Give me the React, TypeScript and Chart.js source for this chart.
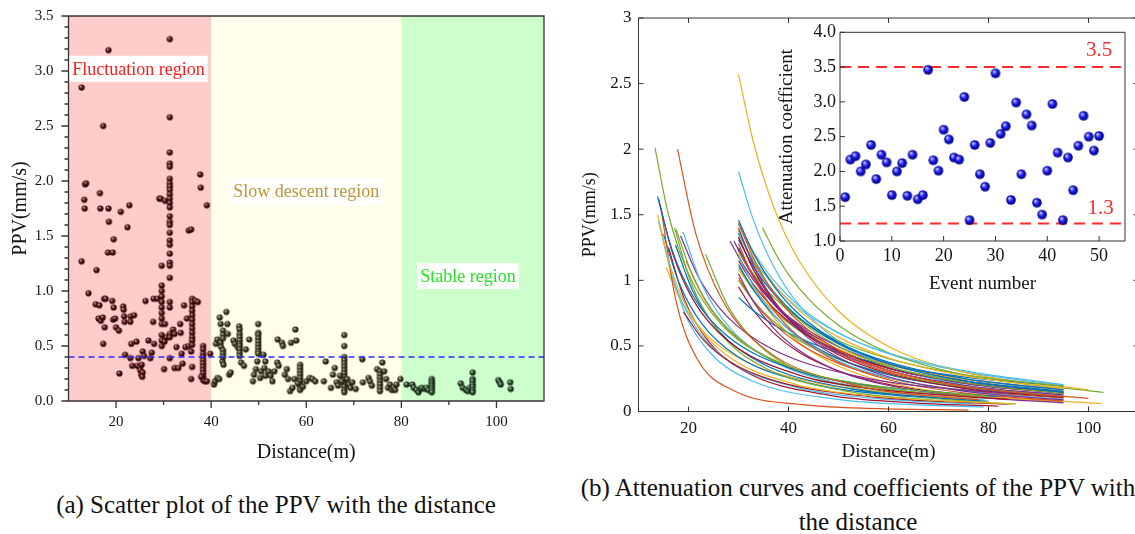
import React, { useEffect, useRef } from 'react';
import { Chart, registerables } from 'chart.js';

Chart.register(...registerables);

const SERIF = '"Liberation Serif", "Times New Roman", Times, serif';

/* ================= (a) Scatter plot of PPV vs distance ================= */
const scatterXRange = [10, 110];
const scatterYRange = [0, 3.5];
const scatterXTicks = [20, 40, 60, 80, 100];
const scatterXMinorTicks = [30, 50, 70, 90];
const scatterYTicks = [0, 0.5, 1, 1.5, 2, 2.5, 3, 3.5];
const scatterYMinorTicks = [0.1, 0.2, 0.3, 0.4, 0.6, 0.7, 0.8, 0.9, 1.1, 1.2, 1.3, 1.4, 1.6, 1.7, 1.8, 1.9, 2.1, 2.2, 2.3, 2.4, 2.6, 2.7, 2.8, 2.9, 3.1, 3.2, 3.3, 3.4];
const regionBounds = [10, 40, 80, 110];
const regionNames = ['Fluctuation region', 'Slow descent region', 'Stable region'];
const regionLabelX = [24.7, 60, 94];
const regionLabelY = [3.02, 1.905, 1.136];
const thresholdPPV = 0.4;

const fluctuationPoints: number[][] = [
  [12.75, 2.85], [12.75, 1.27], [13.3, 1.83], [13.4, 1.75], [13.5, 1.97], [13.7, 1.98], [14.2, 0.98], [15.7, 0.88],
  [15.9, 1.19], [16.5, 0.87], [16.6, 1.89], [16.7, 1.75], [16.3, 0.75], [16.8, 0.73], [17.3, 2.5], [17.3, 0.52],
  [17.2, 0.76], [17.5, 0.93], [17.8, 0.93], [17.6, 0.67], [18.4, 3.19], [18.4, 1.75], [18.5, 1.63], [18.3, 1.35],
  [19.3, 1.35], [19.5, 1.47], [19.2, 0.91], [19.5, 0.85], [19.4, 0.74], [19.8, 0.75], [20.0, 0.67], [20.6, 0.64],
  [20.7, 0.25], [21.0, 1.72], [21.5, 0.86], [21.6, 0.83], [21.7, 0.77], [21.8, 0.72], [21.9, 0.42], [22.4, 1.58],
  [22.8, 1.78], [23.0, 0.72], [23.1, 0.77], [23.2, 0.52], [23.0, 0.39], [23.4, 0.32], [23.8, 0.78], [24.3, 0.54],
  [24.7, 0.39], [24.5, 0.32], [25.0, 0.31], [25.4, 0.33], [25.1, 0.28], [25.3, 0.24], [25.6, 0.26], [25.5, 0.22],
  [25.6, 0.45], [25.9, 0.41], [26.2, 0.91], [26.8, 0.55], [27.2, 0.39], [27.5, 0.44], [27.8, 0.72], [28.0, 0.52],
  [27.9, 0.93], [28.7, 0.93], [29.1, 1.84], [29.4, 1.84], [29.6, 1.23], [29.6, 1.05], [29.6, 1.0], [29.6, 0.95],
  [29.6, 0.9], [29.6, 0.85], [29.6, 0.8], [29.6, 0.75], [29.6, 0.7], [29.6, 0.6], [29.6, 0.55], [29.6, 0.5],
  [30.1, 0.29], [30.2, 0.54], [30.3, 1.82], [30.3, 0.7], [30.6, 0.58], [31.3, 3.29], [31.3, 2.58], [31.3, 2.26],
  [31.3, 2.16], [31.3, 2.13], [31.3, 2.02], [31.3, 1.98], [31.3, 1.95], [31.3, 1.92], [31.3, 1.88], [31.3, 1.84],
  [31.3, 1.8], [31.3, 1.76], [31.3, 1.68], [31.3, 1.63], [31.3, 1.6], [31.3, 1.53], [31.3, 1.46], [31.3, 1.42],
  [31.3, 1.34], [31.3, 1.26], [31.3, 1.23], [31.3, 1.12], [31.3, 0.9], [31.3, 0.85], [31.3, 0.61], [31.3, 0.58],
  [31.3, 0.39], [32.0, 0.65], [32.3, 0.61], [32.7, 0.49], [32.3, 0.3], [33.1, 0.3], [33.5, 0.7], [33.6, 0.62],
  [33.8, 0.43], [34.0, 0.34], [34.3, 0.87], [34.6, 0.49], [34.9, 0.75], [35.3, 0.5], [35.3, 1.55], [35.8, 1.56],
  [35.8, 0.2], [36.0, 0.31], [35.8, 0.45], [36.0, 0.93], [36.0, 0.9], [36.0, 0.86], [36.0, 0.82], [36.0, 0.78],
  [36.0, 0.74], [36.0, 0.7], [36.0, 0.66], [36.0, 0.62], [36.0, 0.58], [36.0, 0.55], [36.0, 0.51], [36.7, 0.91],
  [37.2, 0.9], [37.7, 2.06], [37.8, 1.94], [38.3, 0.5], [38.3, 0.47], [38.3, 0.43], [38.3, 0.4], [38.3, 0.37],
  [38.3, 0.34], [38.3, 0.31], [38.3, 0.28], [38.3, 0.25], [38.3, 0.22], [38.3, 0.19], [37.9, 0.22], [38.7, 0.18],
  [39.1, 0.18], [39.1, 1.78], [39.8, 0.43],
];

const slowDescentPoints: number[][] = [
  [40.6, 0.15], [40.8, 0.18], [41.3, 0.21], [41.7, 0.2], [41.0, 0.52], [41.3, 0.56], [41.8, 0.76], [42.0, 0.7],
  [42.0, 0.53], [42.1, 0.49], [42.4, 0.36], [42.6, 0.33], [42.5, 0.64], [42.5, 0.6], [42.5, 0.57], [42.5, 0.46],
  [42.5, 0.43], [42.5, 0.4], [43.2, 0.81], [43.4, 0.7], [43.5, 0.61], [43.8, 0.24], [44.1, 0.26], [44.7, 0.55],
  [45.0, 0.52], [45.6, 0.49], [45.9, 0.68], [46.0, 0.65], [46.0, 0.61], [46.0, 0.58], [46.0, 0.55], [46.0, 0.52],
  [46.0, 0.5], [46.0, 0.47], [46.0, 0.44], [46.0, 0.41], [46.3, 0.35], [46.9, 0.32], [47.3, 0.47], [48.0, 0.56],
  [48.8, 0.18], [49.0, 0.24], [49.4, 0.29], [49.7, 0.36], [49.9, 0.7], [49.9, 0.62], [49.9, 0.6], [49.9, 0.57],
  [49.9, 0.54], [49.9, 0.51], [49.9, 0.48], [49.9, 0.45], [49.9, 0.43], [50.5, 0.27], [51.2, 0.3], [50.3, 0.21],
  [51.4, 0.23], [51.0, 0.42], [51.4, 0.36], [52.1, 0.27], [52.5, 0.23], [52.9, 0.18], [53.3, 0.27], [53.9, 0.35],
  [54.2, 0.32], [54.0, 0.56], [54.9, 0.53], [55.1, 0.5], [55.5, 0.24], [55.9, 0.29], [56.2, 0.2], [56.6, 0.09],
  [57.1, 0.12], [56.8, 0.53], [57.7, 0.65], [57.9, 0.55], [58.7, 0.33], [58.7, 0.3], [58.7, 0.27], [58.7, 0.24],
  [58.7, 0.21], [58.7, 0.18], [58.7, 0.15], [58.7, 0.12], [58.7, 0.1], [57.5, 0.2], [58.2, 0.16], [59.3, 0.13],
  [60.0, 0.18], [60.7, 0.21], [61.3, 0.2], [61.9, 0.18], [63.7, 0.18], [64.1, 0.36], [65.2, 0.12], [65.6, 0.24],
  [66.0, 0.3], [66.4, 0.17], [66.7, 0.14], [68.0, 0.6], [68.0, 0.5], [68.0, 0.4], [68.0, 0.37], [68.0, 0.34],
  [68.0, 0.31], [68.0, 0.28], [68.0, 0.25], [68.0, 0.22], [68.0, 0.19], [68.0, 0.16], [68.0, 0.13], [68.0, 0.1],
  [68.0, 0.08], [67.1, 0.23], [67.5, 0.18], [68.6, 0.2], [69.0, 0.15], [69.3, 0.12], [69.7, 0.17], [70.4, 0.11],
  [71.8, 0.38], [71.9, 0.17], [73.1, 0.21], [73.4, 0.18], [73.8, 0.14], [74.9, 0.29], [75.5, 0.27], [75.5, 0.24],
  [75.5, 0.21], [75.5, 0.18], [75.5, 0.15], [75.5, 0.12], [75.5, 0.09], [76.0, 0.35], [76.4, 0.27], [76.8, 0.2],
  [77.2, 0.12], [77.6, 0.15], [78.0, 0.1], [78.4, 0.12], [78.7, 0.1], [79.0, 0.15], [79.8, 0.2],
];

const stablePoints: number[][] = [
  [81.1, 0.15], [82.3, 0.15], [82.6, 0.12], [83.2, 0.1], [83.6, 0.08], [84.0, 0.11], [84.3, 0.12], [85.0, 0.11],
  [85.3, 0.12], [85.7, 0.1], [86.4, 0.2], [86.4, 0.18], [86.4, 0.16], [86.4, 0.14], [86.4, 0.12], [86.4, 0.1],
  [86.4, 0.08], [92.5, 0.16], [92.9, 0.12], [93.6, 0.1], [94.0, 0.09], [94.4, 0.12], [95.0, 0.26], [95.0, 0.2],
  [95.0, 0.18], [95.0, 0.15], [95.0, 0.13], [95.0, 0.1], [95.0, 0.08], [100.4, 0.19], [100.7, 0.17], [100.9, 0.15],
  [102.9, 0.17], [103.0, 0.11],
];

/* ================= (b) Attenuation curves ================= */
const curveXRange = [10, 110];
const curveYRange = [0, 3];
const curveXTicks = [20, 40, 60, 80, 100];
const curveYTicks = [0, 0.5, 1, 1.5, 2, 2.5, 3];
const farGrid = [30, 33, 37, 42, 50, 60, 75, 95];

const curveDistances: number[][] = [
  [13.3, 16, 20, 26.6, 39.9, 53.2, 80],
  [17.8, 21.4, 26.7, 35.6, 53.4, 71.2, 78],
  [13.8, 16.6, 20.7, 27.6, 41.4, 55.2, 82],
  [14, 16.8, 21, 28, 42, 56, 84],
  [13.8, 16.6, 20.7, 27.6, 41.4, 55.2, 85],
  [17.2, 20.6, 25.8, 34.4, 51.6, 68.8, 85.5],
  [17.5, 21, 26.25, 35, 52.5, 70, 80],
  [18.9, 22.7, 28.35, 37.8, 56.7, 75.6, 79],
  [17.4, 20.9, 26.1, 34.8, 52.2, 69.6, 78],
  [18.4, 22.1, 27.6, 36.8, 55.2, 73.6, 84],
  [23.4, 28.1, 35.1, 46.8, 70.2, 80],
  [19, 22.8, 28.5, 38, 57, 76, 84],
  [14.5, 17.4, 21.75, 29, 43.5, 58, 76],
  [14, 16.8, 21, 28, 42, 56, 77],
  [15, 18, 22.5, 30, 45, 60, 80],
  [16, 19.2, 24, 32, 48, 64, 82],
  [15.5, 18.6, 23.25, 31, 46.5, 62, 78],
  [19.5, 23.4, 29.25, 39, 58.5, 80],
  [16.5, 19.8, 24.75, 33, 49.5, 66, 79],
  farGrid, farGrid, farGrid, farGrid, farGrid, farGrid, farGrid, farGrid, farGrid,
  farGrid, farGrid, farGrid, farGrid, farGrid, farGrid, farGrid, farGrid, farGrid,
  farGrid, farGrid,
  [30, 33, 37, 42, 50, 60, 75, 100],
  [34.8, 38, 42, 50, 60, 75, 103],
  [28.3, 31, 35, 40, 50, 60, 75, 95],
  [29.1, 31, 35, 40, 50, 60, 75, 95],
  [30, 33, 37, 42, 50, 60, 75, 100],
  [30, 33, 37, 42, 50, 60, 75, 102.6],
  farGrid, farGrid, farGrid, farGrid, farGrid,
];

const curvePPV: number[][] = [
  [2.01, 1.5, 1.05, 0.663, 0.347, 0.219, 0.114],
  [2.0, 1.364, 0.854, 0.466, 0.199, 0.109, 0.09],
  [1.64, 1.246, 0.892, 0.581, 0.315, 0.205, 0.113],
  [1.62, 1.21, 0.847, 0.535, 0.279, 0.176, 0.092],
  [1.5, 1.08, 0.723, 0.431, 0.207, 0.124, 0.057],
  [1.4, 0.972, 0.622, 0.35, 0.155, 0.0875, 0.057],
  [1.39, 1.02, 0.698, 0.428, 0.215, 0.132, 0.105],
  [1.37, 0.969, 0.634, 0.367, 0.17, 0.098, 0.09],
  [1.27, 0.914, 0.612, 0.364, 0.175, 0.105, 0.085],
  [1.34, 1.018, 0.729, 0.474, 0.257, 0.168, 0.137],
  [1.2, 0.79, 0.473, 0.244, 0.096, 0.071],
  [0.76, 0.553, 0.374, 0.226, 0.111, 0.067, 0.056],
  [1.55, 0.86, 0.4, 0.16, 0.05, 0.022, 0.011],
  [1.45, 1.025, 0.671, 0.389, 0.18, 0.104, 0.057],
  [1.35, 0.991, 0.678, 0.416, 0.209, 0.128, 0.078],
  [1.25, 0.853, 0.534, 0.291, 0.125, 0.068, 0.04],
  [1.1, 0.836, 0.598, 0.389, 0.211, 0.138, 0.097],
  [1.15, 0.844, 0.577, 0.354, 0.178, 0.104],
  [1.05, 0.702, 0.431, 0.229, 0.094, 0.05, 0.034],
  [1.46, 1.206, 0.959, 0.745, 0.526, 0.365, 0.234, 0.146],
  [1.44, 1.168, 0.907, 0.687, 0.468, 0.314, 0.192, 0.114],
  [1.42, 1.196, 0.974, 0.775, 0.567, 0.408, 0.273, 0.178],
  [1.4, 1.114, 0.847, 0.624, 0.411, 0.265, 0.155, 0.088],
  [1.38, 1.14, 0.907, 0.704, 0.497, 0.345, 0.221, 0.138],
  [1.35, 1.158, 0.965, 0.788, 0.597, 0.446, 0.312, 0.205],
  [1.33, 1.079, 0.838, 0.634, 0.432, 0.29, 0.177, 0.105],
  [1.31, 1.103, 0.899, 0.715, 0.523, 0.376, 0.252, 0.165],
  [1.28, 1.019, 0.774, 0.571, 0.376, 0.242, 0.142, 0.081],
  [1.25, 1.033, 0.821, 0.638, 0.45, 0.313, 0.2, 0.125],
  [1.22, 1.047, 0.872, 0.712, 0.539, 0.403, 0.282, 0.193],
  [1.18, 0.957, 0.743, 0.563, 0.384, 0.257, 0.157, 0.093],
  [1.15, 0.968, 0.789, 0.628, 0.459, 0.33, 0.221, 0.144],
  [1.12, 0.925, 0.736, 0.571, 0.403, 0.28, 0.179, 0.112],
  [1.08, 0.927, 0.772, 0.631, 0.477, 0.356, 0.249, 0.171],
  [1.05, 0.836, 0.635, 0.468, 0.308, 0.198, 0.117, 0.066],
  [1.02, 0.843, 0.67, 0.52, 0.367, 0.255, 0.163, 0.102],
  [1.0, 0.842, 0.686, 0.546, 0.399, 0.287, 0.192, 0.126],
  [0.87, 0.768, 0.662, 0.562, 0.448, 0.353, 0.264, 0.194],
  [1.83, 1.457, 1.107, 0.816, 0.537, 0.346, 0.203, 0.115],
  [2.57, 2.051, 1.563, 1.157, 0.766, 0.496, 0.3, 0.165],
  [1.4, 1.165, 0.945, 0.657, 0.448, 0.281, 0.145],
  [1.3, 1.114, 0.906, 0.722, 0.494, 0.363, 0.248, 0.166],
  [1.3, 1.153, 0.915, 0.711, 0.465, 0.329, 0.215, 0.137],
  [1.33, 1.084, 0.847, 0.645, 0.444, 0.3, 0.185, 0.1],
  [1.2, 0.952, 0.719, 0.528, 0.345, 0.221, 0.128, 0.06],
  [1.36, 1.134, 0.913, 0.718, 0.515, 0.364, 0.238, 0.152],
  [1.24, 1.034, 0.832, 0.655, 0.47, 0.332, 0.217, 0.139],
  [1.1, 0.935, 0.77, 0.62, 0.462, 0.339, 0.232, 0.155],
  [1.43, 1.216, 1.001, 0.807, 0.601, 0.44, 0.302, 0.202],
  [0.95, 0.77, 0.599, 0.453, 0.309, 0.207, 0.126, 0.075],
];

/* ================= (b) inset: attenuation coefficients ================= */
const insetXRange = [0, 55];
const insetYRange = [1, 4];
const insetXTicks = [0, 10, 20, 30, 40, 50];
const insetYTicks = [1, 1.5, 2, 2.5, 3, 3.5, 4];
const eventNumbers = [1, 2, 3, 4, 5, 6, 7, 8, 9, 10, 11, 12, 13, 14, 15, 16, 17, 18, 19, 20, 21, 22, 23, 24, 25,
  26, 27, 28, 29, 30, 31, 32, 33, 34, 35, 36, 37, 38, 39, 40, 41, 42, 43, 44, 45, 46, 47, 48, 49, 50];
const attenuationCoefficients = [1.63, 2.17, 2.22, 2.0, 2.1, 2.38, 1.89, 2.24, 2.13, 1.66, 2.0, 2.12, 1.65, 2.24, 1.6,
  1.66, 3.46, 2.16, 2.01, 2.6, 2.46, 2.2, 2.17, 3.07, 1.3, 2.38, 1.96, 1.78, 2.41, 3.41, 2.54, 2.65, 1.59, 2.99, 1.96,
  2.82, 2.66, 1.55, 1.38, 2.01, 2.97, 2.27, 1.3, 2.2, 1.73, 2.37, 2.8, 2.5, 2.3, 2.51];
const coefficientLimits = [3.5, 1.25];
const coefficientLimitLabels = ['3.5', '1.3'];
const limitLabelX = [50, 50.3];
const limitLabelY = [3.74, 1.47];

/* ================= styles ================= */
const regionFills = ['#FFCCCC', '#FFFFEC', '#CCFFCC'];
const regionTextColors = ['#FF1A1A', '#BE9632', '#22E622'];
const P = { blue: '#0072BD', orange: '#D95319', yellow: '#EDB120', purple: '#7E2F8E', green: '#77AC30', cyan: '#4DBEEE', maroon: '#A2142F' };
const curveColors = [
  P.green, P.orange, P.blue, P.maroon, P.yellow, P.green, P.green, P.cyan, P.blue, P.purple,
  P.green, P.maroon, P.orange, P.cyan, P.blue, P.maroon, P.yellow, P.orange, P.cyan,
  P.blue, P.orange, P.yellow, P.purple, P.green, P.cyan, P.maroon, P.blue, P.orange, P.purple,
  P.green, P.cyan, P.maroon, P.blue, P.yellow, P.purple, P.orange, P.green, P.blue, P.cyan,
  P.yellow, P.green, P.purple, P.purple, P.orange, P.yellow, P.blue, P.maroon, P.green, P.cyan, P.maroon,
];

function makeSphere(r: number, light: string, mid: string, dark: string) {
  const s = Math.ceil(r * 2 + 2);
  const c = document.createElement('canvas');
  c.width = s; c.height = s;
  const g = c.getContext('2d')!;
  const cx = s / 2, cy = s / 2;
  const grad = g.createRadialGradient(cx - r * 0.35, cy - r * 0.4, r * 0.1, cx, cy, r);
  grad.addColorStop(0, light);
  grad.addColorStop(0.5, mid);
  grad.addColorStop(1, dark);
  g.fillStyle = grad;
  g.beginPath();
  g.arc(cx, cy, r, 0, Math.PI * 2);
  g.fill();
  return c;
}

function axis(o: any) {
  return {
    type: 'linear',
    min: o.range[0], max: o.range[1],
    grid: { display: false, drawTicks: false },
    border: { display: false },
    afterBuildTicks: (s: any) => { s.ticks = o.ticks.map((v: number) => ({ value: v })); },
    afterFit: (s: any) => {
      if (o.horizontal) { s.height = o.fit; s.paddingLeft = 0; s.paddingRight = 0; }
      else { s.width = o.fit; s.paddingTop = 0; s.paddingBottom = 0; }
    },
    ticks: {
      autoSkip: false, maxRotation: 0, minRotation: 0, padding: o.pad, color: '#151515',
      font: { family: SERIF, size: o.size }, callback: (v: any) => o.fmt(Number(v)),
    },
    title: {
      display: true, text: o.title, color: '#151515', font: { family: SERIF, size: o.titleSize },
      padding: o.horizontal ? { top: 0, bottom: o.titlePad } : { top: o.titlePad, bottom: 0 },
    },
  };
}

function framePlugin(cfg: any) {
  return {
    id: 'frame',
    afterDraw(chart: any) {
      const { ctx, chartArea: a, scales } = chart;
      const xs = scales.x, ys = scales.y;
      ctx.save();
      ctx.strokeStyle = cfg.color;
      ctx.lineWidth = cfg.lineWidth;
      ctx.beginPath();
      ctx.rect(a.left, a.top, a.right - a.left, a.bottom - a.top);
      const s = cfg.dir === 'out' ? 1 : -1;
      const tx = (v: number, len: number) => {
        const p = xs.getPixelForValue(v);
        ctx.moveTo(p, a.bottom); ctx.lineTo(p, a.bottom + s * len);
        if (cfg.mirror) { ctx.moveTo(p, a.top); ctx.lineTo(p, a.top - s * len); }
      };
      const ty = (v: number, len: number) => {
        const p = ys.getPixelForValue(v);
        ctx.moveTo(a.left, p); ctx.lineTo(a.left - s * len, p);
        if (cfg.mirror) { ctx.moveTo(a.right, p); ctx.lineTo(a.right + s * len, p); }
      };
      cfg.xMajor.forEach((v: number) => tx(v, cfg.majorLen));
      (cfg.xMinor || []).forEach((v: number) => tx(v, cfg.minorLen));
      cfg.yMajor.forEach((v: number) => ty(v, cfg.majorLen));
      (cfg.yMinor || []).forEach((v: number) => ty(v, cfg.minorLen));
      ctx.stroke();
      ctx.restore();
    },
  };
}

const regionPlugin = {
  id: 'regions',
  beforeDatasetsDraw(chart: any) {
    const { ctx, chartArea: a, scales: { x } } = chart;
    ctx.save();
    for (let i = 0; i < regionBounds.length - 1; i++) {
      const x0 = x.getPixelForValue(regionBounds[i]);
      const x1 = x.getPixelForValue(regionBounds[i + 1]);
      ctx.fillStyle = regionFills[i];
      ctx.fillRect(x0, a.top, x1 - x0, a.bottom - a.top);
    }
    ctx.restore();
  },
  afterDatasetsDraw(chart: any) {
    const { ctx, scales: { x, y } } = chart;
    ctx.save();
    ctx.font = `18px ${SERIF}`;
    ctx.textAlign = 'center';
    ctx.textBaseline = 'middle';
    regionNames.forEach((name, i) => {
      const px = x.getPixelForValue(regionLabelX[i]);
      const py = y.getPixelForValue(regionLabelY[i]);
      const w = ctx.measureText(name).width + 6;
      ctx.fillStyle = '#ffffff';
      ctx.fillRect(px - w / 2, py - 13, w, 26);
      ctx.fillStyle = regionTextColors[i];
      ctx.fillText(name, px, py + 1);
    });
    ctx.restore();
  },
};

const insetPlugin = {
  id: 'insetDeco',
  beforeDatasetsDraw(chart: any) {
    const { ctx, chartArea: a } = chart;
    ctx.save();
    ctx.fillStyle = '#ffffff';
    ctx.fillRect(a.left, a.top, a.right - a.left, a.bottom - a.top);
    ctx.restore();
  },
  afterDatasetsDraw(chart: any) {
    const { ctx, scales: { x, y } } = chart;
    ctx.save();
    ctx.font = `21px ${SERIF}`;
    ctx.textAlign = 'center';
    ctx.textBaseline = 'middle';
    ctx.fillStyle = '#FF2A2A';
    coefficientLimitLabels.forEach((t, i) => {
      ctx.fillText(t, x.getPixelForValue(limitLabelX[i]), y.getPixelForValue(limitLabelY[i]));
    });
    ctx.restore();
  },
};

export default function App() {
  const aRef = useRef<HTMLCanvasElement>(null);
  const bRef = useRef<HTMLCanvasElement>(null);
  const cRef = useRef<HTMLCanvasElement>(null);

  useEffect(() => {
    const charts: any[] = [];
    const sphRed = makeSphere(3.1, '#c89090', '#5a1414', '#160000');
    const sphOlive = makeSphere(3.1, '#b0b090', '#42422a', '#0e0e06');
    const sphGreen = makeSphere(3.1, '#a0c0a0', '#2e4c2e', '#081608');
    const sphBlue = makeSphere(4.8, '#c0c0ff', '#1818f0', '#000070');

    const toXY = (arr: number[][]) => arr.map(([x, y]) => ({ x, y }));

    // ---- (a)
    charts.push(new Chart(aRef.current!, {
      type: 'scatter',
      data: {
        datasets: [
          {
            type: 'line',
            data: [{ x: scatterXRange[0], y: thresholdPPV }, { x: scatterXRange[1], y: thresholdPPV }],
            borderColor: '#2b2bff', borderWidth: 1.5, borderDash: [6, 4], pointRadius: 0, fill: false,
          } as any,
          { data: toXY(fluctuationPoints), pointStyle: sphRed as any, pointRadius: 3.1 },
          { data: toXY(slowDescentPoints), pointStyle: sphOlive as any, pointRadius: 3.1 },
          { data: toXY(stablePoints), pointStyle: sphGreen as any, pointRadius: 3.1 },
        ],
      },
      options: {
        responsive: false, animation: false, events: [],
        layout: { padding: { left: 0, top: 16, right: 16, bottom: 0 } },
        plugins: { legend: { display: false }, tooltip: { enabled: false } },
        scales: {
          x: axis({ range: scatterXRange, ticks: scatterXTicks, fmt: (v: number) => String(v), size: 15, pad: 12, fit: 69, title: 'Distance(m)', titleSize: 20, titlePad: 5, horizontal: true }),
          y: axis({ range: scatterYRange, ticks: scatterYTicks, fmt: (v: number) => v.toFixed(1), size: 15, pad: 15, fit: 68.5, title: 'PPV(mm/s)', titleSize: 20, titlePad: 9, horizontal: false }),
        } as any,
      },
      plugins: [regionPlugin, framePlugin({ color: '#3a3030', lineWidth: 1.3, dir: 'out', majorLen: 7, minorLen: 4, mirror: false, xMajor: scatterXTicks, xMinor: scatterXMinorTicks, yMajor: scatterYTicks, yMinor: scatterYMinorTicks })],
    } as any));

    // ---- (b) curves
    charts.push(new Chart(bRef.current!, {
      type: 'scatter',
      data: {
        datasets: curvePPV.map((vals, i) => ({
          data: vals.map((v, j) => ({ x: curveDistances[i][j], y: v })),
          showLine: true, borderColor: curveColors[i % curveColors.length], borderWidth: 1.2,
          pointRadius: 0, cubicInterpolationMode: 'monotone', fill: false,
        })),
      },
      options: {
        responsive: false, animation: false, events: [],
        layout: { padding: { left: 0, top: 18, right: 21.5, bottom: 0 } },
        plugins: { legend: { display: false }, tooltip: { enabled: false } },
        scales: {
          x: axis({ range: curveXRange, ticks: curveXTicks, fmt: (v: number) => String(v), size: 17, pad: 7, fit: 58.5, title: 'Distance(m)', titleSize: 19, titlePad: 6.6, horizontal: true }),
          y: axis({ range: curveYRange, ticks: curveYTicks, fmt: (v: number) => String(v), size: 17, pad: 7, fit: 78.5, title: 'PPV(mm/s)', titleSize: 18, titlePad: 19.2, horizontal: false }),
        } as any,
      },
      plugins: [framePlugin({ color: '#333333', lineWidth: 1, dir: 'in', majorLen: 5, minorLen: 3, mirror: true, xMajor: curveXTicks, yMajor: curveYTicks })],
    } as any));

    // ---- (b) inset
    charts.push(new Chart(cRef.current!, {
      type: 'scatter',
      data: {
        datasets: [
          { data: eventNumbers.map((e, i) => ({ x: e, y: attenuationCoefficients[i] })), pointStyle: sphBlue as any, pointRadius: 4.8 },
          ...coefficientLimits.map((lim) => ({
            data: [{ x: insetXRange[0], y: lim }, { x: insetXRange[1], y: lim }],
            showLine: true, borderColor: '#FF2A2A', borderWidth: 2, borderDash: [11, 7], pointRadius: 0, fill: false,
          })),
        ],
      },
      options: {
        responsive: false, animation: false, events: [],
        layout: { padding: { left: 0, top: 12.3, right: 10, bottom: 0 } },
        plugins: { legend: { display: false }, tooltip: { enabled: false } },
        scales: {
          x: axis({ range: insetXRange, ticks: insetXTicks, fmt: (v: number) => String(v), size: 18, pad: 4, fit: 59, title: 'Event number', titleSize: 19, titlePad: 4.1, horizontal: true }),
          y: axis({ range: insetYRange, ticks: insetYTicks, fmt: (v: number) => v.toFixed(1), size: 18, pad: 4, fit: 70, title: 'Attenuation coefficient', titleSize: 19, titlePad: 5.6, horizontal: false }),
        } as any,
      },
      plugins: [insetPlugin, framePlugin({ color: '#333333', lineWidth: 1, dir: 'in', majorLen: 5, minorLen: 3, mirror: false, xMajor: insetXTicks, yMajor: insetYTicks })],
    } as any));

    return () => { charts.forEach((c) => c.destroy()); };
  }, []);

  const capStyle: React.CSSProperties = {
    position: 'absolute', fontFamily: SERIF, fontSize: 25, color: '#111', whiteSpace: 'nowrap', textAlign: 'center',
  };

  return (
    <div style={{ position: 'fixed', left: 0, top: 0, width: 1135, height: 534, overflow: 'hidden', background: '#ffffff' }}>
      <canvas ref={aRef} width={560} height={470} style={{ position: 'absolute', left: 0, top: 0, width: 560, height: 470 }} />
      <canvas ref={bRef} width={600} height={470} style={{ position: 'absolute', left: 560, top: 0, width: 600, height: 470 }} />
      <canvas ref={cRef} width={365} height={280} style={{ position: 'absolute', left: 770, top: 20, width: 365, height: 280 }} />
      <div style={{ ...capStyle, left: 0, width: 552, top: 489, lineHeight: '32px' }}>(a) Scatter plot of the PPV with the distance</div>
      <div style={{ ...capStyle, left: 558, width: 600, top: 471, lineHeight: '34px' }}>
        (b) Attenuation curves and coefficients of the PPV with<br />the distance
      </div>
    </div>
  );
}
